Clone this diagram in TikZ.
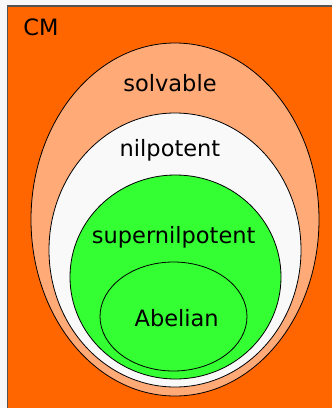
\documentclass[tikz,border=0pt]{standalone}
\usepackage{fontspec}
\setmainfont{DejaVu Sans}
\definecolor{bg}{HTML}{F8F8F8}
\definecolor{cmorange}{HTML}{FF6600}
\definecolor{solvcol}{HTML}{FFAA77}
\definecolor{nilcol}{HTML}{F9F9F9}
\definecolor{supcol}{HTML}{33FF33}
\definecolor{framecol}{HTML}{555555}
\begin{document}
\begin{tikzpicture}[x=1pt,y=-1pt,
  set/.style={draw=black,line width=0.8pt},
  lbl/.style={anchor=base,inner sep=0pt,font=\fontsize{22.5}{27}\selectfont}]
\useasboundingbox (0,0) rectangle (332,408);
\fill[bg] (0,0) rectangle (332,408);
\fill[cmorange] (7.5,6) rectangle (333,409);
\draw[framecol,line width=1.6pt] (7.5,409) -- (7.5,6) -- (333,6);
\filldraw[set,fill=solvcol] (175,219.5) ellipse [x radius=144, y radius=176.5];
\filldraw[set,fill=nilcol] (175,250) ellipse [x radius=126, y radius=137];
\filldraw[set,fill=supcol] (175.5,277) ellipse [x radius=105.5, y radius=102];
\draw[set] (173.5,316.5) ellipse [x radius=73.5, y radius=54.5];
\node[lbl] (cm) at (41,35) {CM};
\node[lbl] (solv) at (170,91) {solvable};
\node[lbl] (nil) at (170,156.7) {nilpotent};
\node[lbl] (sup) at (173.7,243) {supernilpotent};
\node[lbl] (ab) at (176.7,326) {Abelian};
\end{tikzpicture}
\end{document}
